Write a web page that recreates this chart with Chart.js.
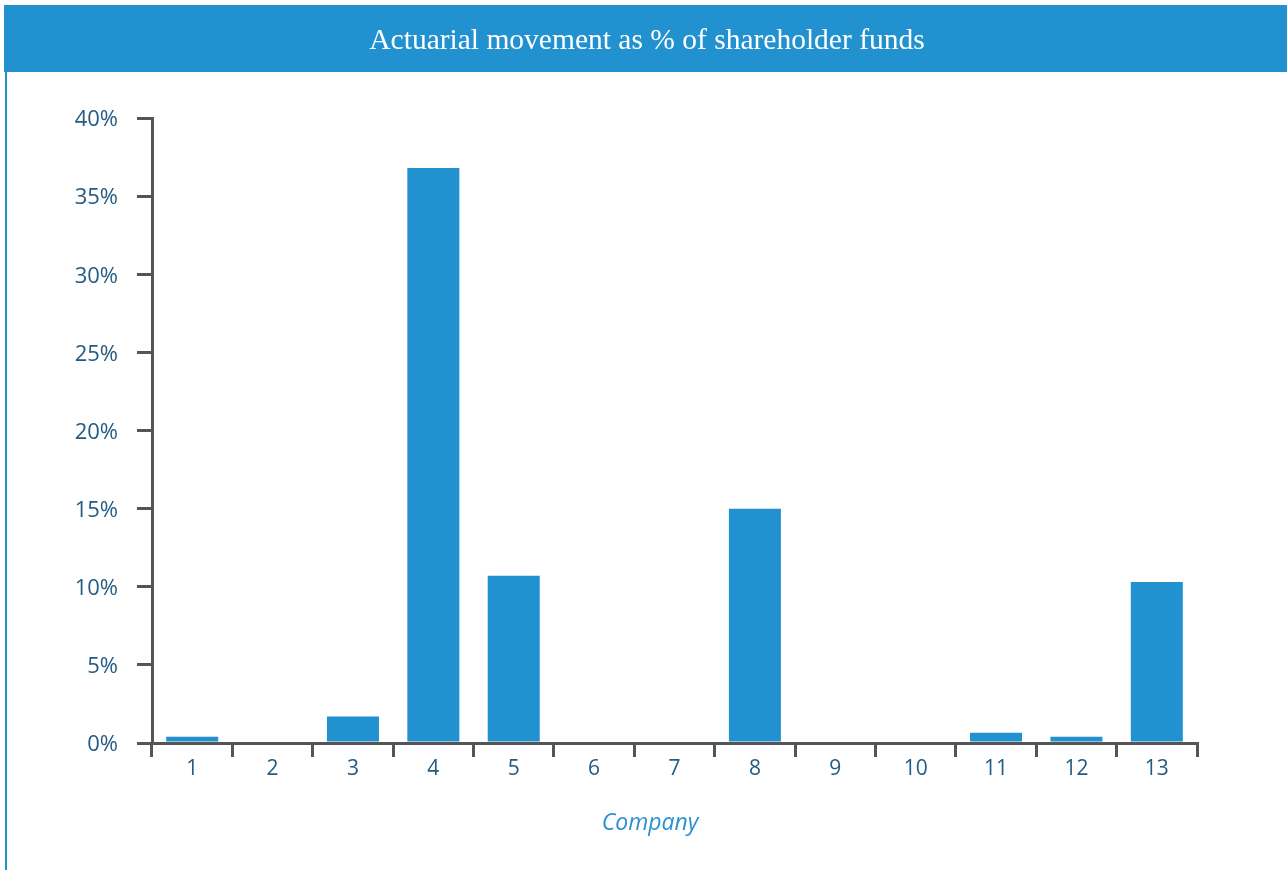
<!DOCTYPE html>
<html>
<head>
<meta charset="utf-8">
<script src="https://cdn.jsdelivr.net/npm/chart.js@4/dist/chart.umd.min.js"></script>
<style>
  html, body { margin: 0; padding: 0; background: #fff; }
  #wrap { position: relative; width: 1287px; height: 872px; }
</style>
</head>
<body>
<div id="wrap"><canvas id="c" width="1287" height="872"></canvas></div>
<script>
const chartTitle = 'Actuarial movement as % of shareholder funds';
const xAxisTitle = 'Company';
const companies = ['1','2','3','4','5','6','7','8','9','10','11','12','13'];
const movementPct = [0.4, 0, 1.7, 36.8, 10.7, 0, 0, 15.0, 0, 0, 0.65, 0.4, 10.3];
const yTicks = [0, 5, 10, 15, 20, 25, 30, 35, 40];

const BLUE = '#2191d0';
const AXIS = '#555555';
const LABEL = '#245b82';

const frame = {
  id: 'frame',
  beforeDraw(chart) {
    const ctx = chart.ctx;
    ctx.save();
    ctx.fillStyle = BLUE;
    ctx.fillRect(4, 5, chart.width - 4, 67);
    ctx.fillRect(5, 72, 2, chart.height - 74);
    ctx.fillStyle = '#ffffff';
    ctx.font = '29.5px "Liberation Serif", serif';
    ctx.textAlign = 'center';
    ctx.textBaseline = 'middle';
    ctx.fillText(chartTitle, 647, 41);
    ctx.fillStyle = '#2b91d0';
    ctx.font = 'italic 23px "Open Sans", sans-serif';
    ctx.fillText(xAxisTitle, 650, 823);
    ctx.restore();
  }
};

new Chart(document.getElementById('c'), {
  type: 'bar',
  data: {
    labels: companies,
    datasets: [{
      data: movementPct,
      backgroundColor: BLUE,
      borderWidth: 0,
      categoryPercentage: 1,
      barPercentage: 0.647
    }]
  },
  options: {
    responsive: false,
    animation: false,
    layout: { padding: { top: 118, right: 90, bottom: 0, left: 0 } },
    plugins: { legend: { display: false }, tooltip: { enabled: false } },
    scales: {
      x: {
        afterFit(s) { s.height = 129; },
        border: { display: true, color: AXIS, width: 3 },
        grid: { offset: true, drawOnChartArea: false, drawTicks: true, tickLength: 14, color: AXIS, lineWidth: 3 },
        ticks: { color: LABEL, font: { family: '"Open Sans", sans-serif', size: 21 }, padding: -1 }
      },
      y: {
        min: 0, max: 40,
        afterFit(s) { s.width = 152; },
        afterBuildTicks(s) { s.ticks = yTicks.map(v => ({ value: v })); },
        border: { display: true, color: AXIS, width: 3 },
        grid: { drawOnChartArea: false, drawTicks: true, tickLength: 15, color: AXIS, lineWidth: 3 },
        ticks: { color: LABEL, font: { family: '"Open Sans", sans-serif', size: 22 }, padding: 19,
                 labelOffset: 2, callback: v => v + '%' }
      }
    }
  },
  plugins: [frame]
});
</script>
</body>
</html>
